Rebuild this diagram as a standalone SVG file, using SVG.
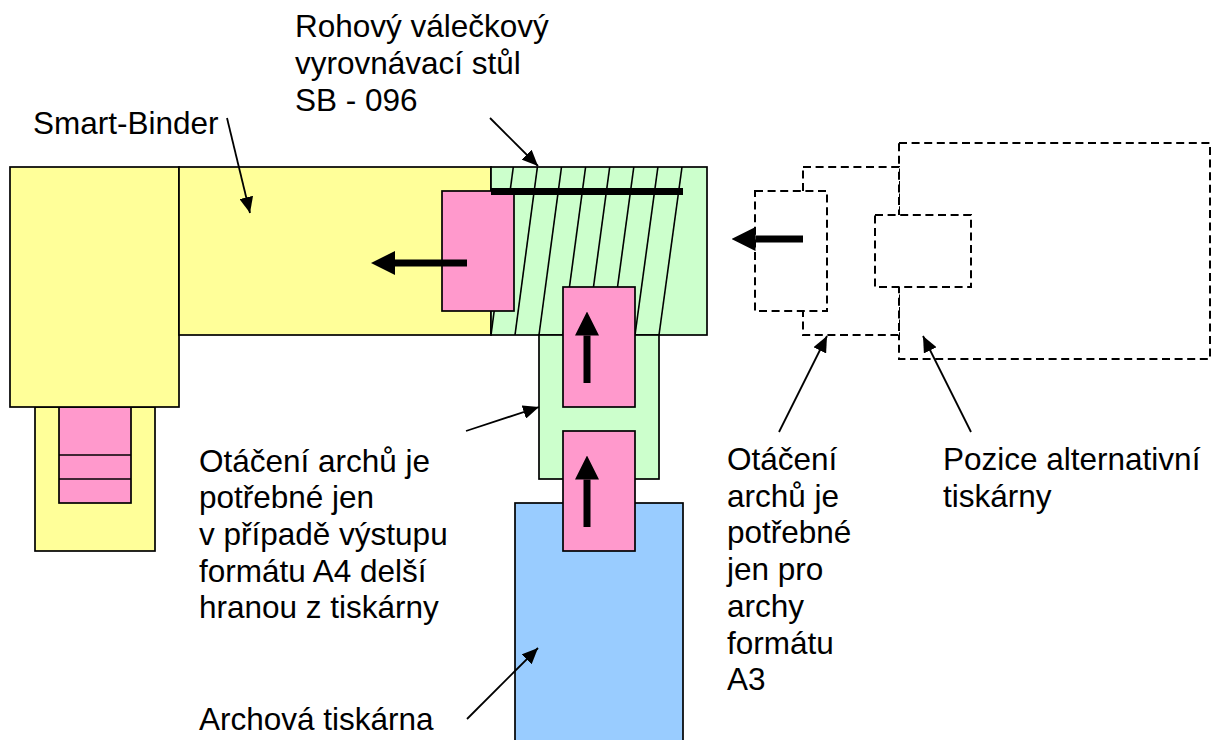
<svg xmlns="http://www.w3.org/2000/svg" width="1212" height="740" viewBox="0 0 1212 740">
<style>
.box{stroke:#000;stroke-width:1.7}
.y{fill:#FFFF99}.g{fill:#CCFFCC}.p{fill:#FF99CC}.b{fill:#99CCFF}
.d{fill:#fff;stroke:#000;stroke-width:2;stroke-dasharray:8 4.6}
.sl{stroke:#000;stroke-width:1.6;fill:none}
.ptr{stroke:#000;stroke-width:1.8;fill:none;marker-end:url(#ah)}
.fat{stroke:#000;stroke-width:7;fill:none;marker-end:url(#bh)}
text{font-family:"Liberation Sans",Arial,sans-serif;font-size:31.5px;fill:#000}
</style>
<defs>
<marker id="ah" markerUnits="userSpaceOnUse" markerWidth="16" markerHeight="14" refX="16" refY="7" orient="auto"><path d="M0,0 L16,7 L0,14 z" fill="#000"/></marker>
<marker id="bh" markerUnits="userSpaceOnUse" markerWidth="24" markerHeight="24" refX="0" refY="12" orient="auto"><path d="M0,0 L24,12 L0,24 z" fill="#000"/></marker>
</defs>
<rect width="1212" height="740" fill="#fff"/>

<g id="alternative-printer">
<rect class="d" x="899" y="143" width="311" height="216"/>
<rect class="d" x="803" y="167" width="96" height="168"/>
<rect class="d" x="755" y="191" width="72" height="120"/>
<rect class="d" x="875" y="215" width="96" height="72"/>
</g>

<g id="smart-binder">
<rect class="box y" x="35" y="407" width="120" height="144"/>
<rect class="box p" x="59" y="407" width="72" height="96"/>
<line class="sl" x1="59" y1="455" x2="131" y2="455"/>
<line class="sl" x1="59" y1="479" x2="131" y2="479"/>
<rect class="box y" x="10" y="167" width="169" height="240"/>
<rect class="box y" x="179" y="167" width="312" height="168"/>
</g>

<g id="printer">
<rect class="box b" x="515" y="503" width="168" height="250"/>
</g>

<g id="corner-table">
<rect class="box g" x="491" y="167" width="216" height="168"/>
<g class="sl">
<line x1="513.3" y1="167" x2="491" y2="335"/>
<line x1="537.4" y1="167" x2="515" y2="335"/>
<line x1="561.5" y1="167" x2="539" y2="335"/>
<line x1="585.6" y1="167" x2="563" y2="335"/>
<line x1="609.7" y1="167" x2="587" y2="335"/>
<line x1="633.8" y1="167" x2="611" y2="335"/>
<line x1="657.9" y1="167" x2="635" y2="335"/>
<line x1="682" y1="167" x2="659" y2="335"/>
</g>
<rect class="box g" x="539" y="335" width="120" height="144"/>
</g>

<g id="sheets">
<rect class="box p" x="442" y="191" width="72" height="120"/>
<rect x="491" y="188" width="192" height="7" fill="#000"/>
<rect class="box p" x="563" y="287" width="72" height="120"/>
<rect class="box p" x="563" y="431" width="72" height="120"/>
</g>

<g id="connectors">
<line class="fat" x1="467" y1="263" x2="395" y2="263"/>
<line class="fat" x1="803" y1="239" x2="755.5" y2="239"/>
<line class="fat" x1="587" y1="383" x2="587" y2="335.5"/>
<line class="fat" x1="587" y1="527" x2="587" y2="479.5"/>
<line class="ptr" x1="227" y1="118" x2="250" y2="213"/>
<line class="ptr" x1="490" y1="118" x2="538" y2="166"/>
<line class="ptr" x1="466" y1="431" x2="539" y2="407"/>
<line class="ptr" x1="467" y1="719" x2="538" y2="648"/>
<line class="ptr" x1="779" y1="432" x2="827" y2="336"/>
<line class="ptr" x1="971" y1="432" x2="923" y2="336"/>
</g>

<g id="labels">
<text x="295" y="37">Rohový válečkový</text>
<text x="295" y="74">vyrovnávací stůl</text>
<text x="295" y="111">SB - 096</text>
<text x="33" y="134">Smart-Binder</text>
<text x="199" y="471.5">Otáčení archů je</text>
<text x="199" y="508.2">potřebné jen</text>
<text x="199" y="544.9">v případě výstupu</text>
<text x="199" y="581.6">formátu A4 delší</text>
<text x="199" y="618.3">hranou z tiskárny</text>
<text x="199" y="730">Archová tiskárna</text>
<text x="727" y="470">Otáčení</text>
<text x="727" y="506.7">archů je</text>
<text x="727" y="543.4">potřebné</text>
<text x="727" y="580.1">jen pro</text>
<text x="727" y="616.8">archy</text>
<text x="727" y="653.5">formátu</text>
<text x="727" y="690.2">A3</text>
<text x="943" y="470">Pozice alternativní</text>
<text x="943" y="506.7">tiskárny</text>
</g>
</svg>
